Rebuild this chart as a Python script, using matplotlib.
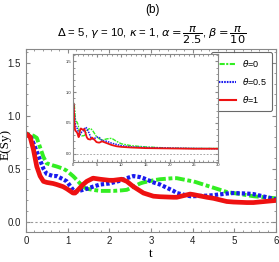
import matplotlib
matplotlib.use("Agg")
import matplotlib.pyplot as plt
from matplotlib.ticker import MultipleLocator

plt.rcParams['font.family'] = ['Liberation Sans', 'DejaVu Sans']
plt.rcParams['mathtext.fontset'] = 'dejavusans'

t = [0, 0.1, 0.18, 0.26, 0.34, 0.42, 0.5, 0.65, 0.74, 0.89, 0.98, 1.13, 1.18, 1.37, 1.46, 1.61,
     1.78, 2.0, 2.1, 2.3, 2.42, 2.58, 2.74, 2.82, 3.06, 3.22, 3.54, 3.62, 3.94, 4.02, 4.34, 4.5,
     4.82, 4.98, 5.3, 5.46, 6.0, 7, 8, 9, 10, 12, 15, 20, 25, 30]

red = [0.83, 0.80, 0.68, 0.52, 0.43, 0.38, 0.37, 0.36, 0.35, 0.33, 0.31, 0.27, 0.27, 0.35, 0.38, 0.41,
       0.40, 0.39, 0.39, 0.40, 0.38, 0.33, 0.29, 0.27, 0.24, 0.235, 0.23, 0.23, 0.26, 0.255, 0.23, 0.22,
       0.19, 0.185, 0.18, 0.18, 0.20, 0.17, 0.14, 0.12, 0.11, 0.10, 0.09, 0.085, 0.08, 0.08]

blue = [0.83, 0.81, 0.74, 0.66, 0.58, 0.50, 0.45, 0.43, 0.43, 0.40, 0.38, 0.30, 0.28, 0.30, 0.31, 0.33,
        0.35, 0.36, 0.37, 0.39, 0.41, 0.43, 0.42, 0.41, 0.37, 0.35, 0.29, 0.27, 0.24, 0.24, 0.245, 0.25,
        0.265, 0.27, 0.265, 0.26, 0.21, 0.20, 0.17, 0.15, 0.13, 0.11, 0.10, 0.09, 0.085, 0.08]

green = [0.83, 0.82, 0.81, 0.79, 0.70, 0.61, 0.55, 0.53, 0.52, 0.50, 0.48, 0.43, 0.41, 0.33, 0.31, 0.30,
         0.29, 0.29, 0.29, 0.295, 0.30, 0.33, 0.36, 0.37, 0.39, 0.40, 0.41, 0.41, 0.385, 0.38, 0.34, 0.32,
         0.28, 0.27, 0.25, 0.24, 0.22, 0.24, 0.25, 0.20, 0.16, 0.13, 0.11, 0.09, 0.085, 0.085]

labels = [r'$\theta$=0', r'$\theta$=0.5', r'$\theta$=1']
colors = ['#33ee22', '#1a1aee', '#ee1111']

fig = plt.figure(figsize=(2.79, 2.62), dpi=100)
ax = fig.add_axes([0.093, 0.116, 0.896, 0.696])

spine_c = '#888888'
def style(a, fs, L):
    for s in a.spines.values():
        s.set_color(spine_c)
        s.set_linewidth(0.8)
    a.tick_params(which='both', direction='in', top=True, right=True, colors=spine_c,
                  labelcolor='#222222', labelsize=fs)
    a.tick_params(which='major', length=L)
    a.tick_params(which='minor', length=L * 0.6)

ax.plot(t, green, color=colors[0], lw=2.8, ls=(0, (1.0, 0.7, 2.5, 0.7)), label=labels[0])
ax.plot(t, blue, color=colors[1], lw=3.0, ls=(0, (0.8, 0.5)), label=labels[1])
ax.plot(t, red, color=colors[2], lw=3.4, ls='-', label=labels[2])
ax.axhline(0, color='#999999', lw=0.8, ls=(0, (2, 2)))
ax.set_xlim(0, 6)
ax.set_ylim(-0.094, 1.626)
ax.xaxis.set_major_locator(MultipleLocator(1))
ax.xaxis.set_minor_locator(MultipleLocator(0.2))
ax.yaxis.set_major_locator(MultipleLocator(0.5))
ax.yaxis.set_minor_locator(MultipleLocator(0.1))
ax.yaxis.set_major_formatter(plt.FuncFormatter(lambda v, p: f'{v:.1f}'))
style(ax, 7, 3)
ax.set_xlabel('t', family='Liberation Serif', fontsize=9.5, labelpad=1)
ax.set_ylabel('E(Sy)', family='Liberation Serif', fontsize=9.5)
ax.yaxis.set_label_coords(-0.058, 0.48)

leg = ax.legend(loc='upper right', bbox_to_anchor=(0.975, 0.80), bbox_transform=fig.transFigure,
                borderaxespad=0, fontsize=6.5, frameon=True, fancybox=True, edgecolor='#444444',
                handlelength=2.2, handletextpad=0.6, borderpad=0.6, labelspacing=0.8)
for h in leg.get_lines():
    h.set_linewidth(1.5)
leg.get_frame().set_linewidth(0.8)

ins = fig.add_axes([0.262, 0.383, 0.519, 0.411])
ins.plot(t, green, color=colors[0], lw=1.0, ls=(0, (1.2, 0.8, 3, 0.8)))
ins.plot(t, blue, color=colors[1], lw=1.1, ls=(0, (1, 0.7)))
ins.plot(t, red, color=colors[2], lw=1.3, ls='-')
ins.axhline(0, color='#999999', lw=0.6, ls=(0, (2, 2)))
ins.set_xlim(0, 30)
ins.set_ylim(-0.13, 1.62)
ins.xaxis.set_major_locator(MultipleLocator(5))
ins.xaxis.set_minor_locator(MultipleLocator(1))
ins.yaxis.set_major_locator(MultipleLocator(0.5))
ins.yaxis.set_minor_locator(MultipleLocator(0.1))
ins.yaxis.set_major_formatter(plt.FuncFormatter(lambda v, p: f'{v:.1f}'))
style(ins, 3, 2)
ins.tick_params(pad=1)

fig.text(0.545, 0.96, '(b)', ha='center', va='center', fontsize=8.5)
fig.text(0.542, 0.865, r'$\Delta$ = 5, $\gamma$ = 10, $\kappa$ = 1, $\alpha = \dfrac{\pi}{2.5}$, $\beta = \dfrac{\pi}{10}$',
         ha='center', va='center', fontsize=8.2)

fig.savefig('out.png', dpi=100)
